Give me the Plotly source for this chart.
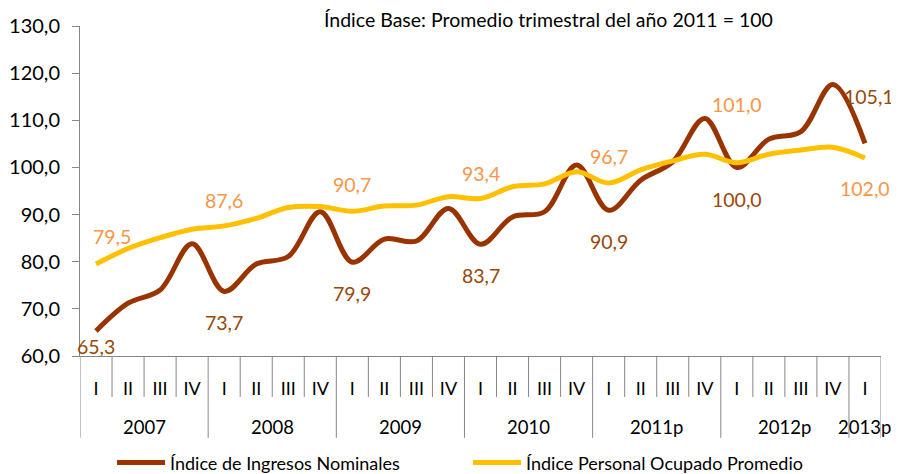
import plotly.graph_objects as go

# ---- data ----
years = ["2007", "2008", "2009", "2010", "2011p", "2012p", "2013p"]
quarters = ["I", "II", "III", "IV"] * 6 + ["I"]
ingresos = [65.3, 71.2, 74.0, 83.8, 73.7, 79.5, 81.1, 90.6, 79.9, 84.8, 84.4, 91.3,
            83.7, 89.5, 90.6, 100.5, 90.9, 97.3, 101.2, 110.4, 100.0, 106.0, 107.6, 117.6, 105.1]
personal = [79.5, 82.8, 85.1, 86.9, 87.6, 89.2, 91.5, 91.7, 90.7, 91.8, 92.0, 93.8,
            93.4, 95.9, 96.5, 99.1, 96.7, 99.5, 101.4, 102.8, 101.0, 102.8, 103.7, 104.3, 102.0]
ingresos_label_idx = [0, 4, 8, 12, 16, 20, 24]
personal_label_idx = [0, 4, 8, 12, 16, 20, 24]
title_text = "Índice Base: Promedio trimestral del año 2011 = 100"
name_ing = "Índice de Ingresos Nominales"
name_per = "Índice Personal Ocupado Promedio"

# ---- styles ----
FONT = "Lato"
C_ING = "#993300"
C_PER = "#FFC000"
C_ING_LBL = "#984807"
C_PER_LBL = "#F79646"
AX = "#868686"
ing_shift = {0: (0, -15), 4: (0, -31), 8: (0, -31), 12: (0, -31), 16: (0, -31), 20: (0, -32), 24: (4, 47)}
per_shift = {0: (16, 28), 4: (0, 25), 8: (0, 27), 12: (0, 25), 16: (0, 26), 20: (0, 58), 24: (0, -30)}

n = len(quarters)
xs = list(range(n))

fig = go.Figure()
fig.add_trace(go.Scatter(x=xs, y=ingresos, mode="lines", name=name_ing,
                         line=dict(color=C_ING, width=5, shape="spline", smoothing=1.0),
                         hoverinfo="skip"))
fig.add_trace(go.Scatter(x=xs, y=personal, mode="lines", name=name_per,
                         line=dict(color=C_PER, width=5, shape="spline", smoothing=1.0),
                         hoverinfo="skip"))

def fmt(v):
    return f"{v:.1f}".replace(".", ",")

ann = []
for i in ingresos_label_idx:
    dx, dy = ing_shift[i]
    ann.append(dict(x=i, y=ingresos[i], xref="x", yref="y", text=fmt(ingresos[i]), showarrow=False,
                    xshift=dx, yshift=dy, font=dict(family=FONT, size=19.5, color=C_ING_LBL)))
for i in personal_label_idx:
    dx, dy = per_shift[i]
    ann.append(dict(x=i, y=personal[i], xref="x", yref="y", text=fmt(personal[i]), showarrow=False,
                    xshift=dx, yshift=dy, font=dict(family=FONT, size=19.5, color=C_PER_LBL)))

# year labels
for k, yr in enumerate(years):
    idx = [i for i in range(n) if i // 4 == k]
    cx = (idx[0] + idx[-1]) / 2
    ann.append(dict(x=cx, y=-0.215, xref="x", yref="paper", text=yr, showarrow=False,
                    yanchor="middle", font=dict(family=FONT, size=18.5, color="#000000")))

# title
ann.append(dict(x=0.585, y=1.0, xref="paper", yref="paper", text=title_text, showarrow=False,
                yanchor="middle", yshift=7, borderpad=0,
                font=dict(family=FONT, size=19.5, color="#000000")))

# separators
shapes = []
for k in range(n + 1):
    xb = k - 0.5
    is_year = (k % 4 == 0) or k == n
    shapes.append(dict(type="line", xref="x", yref="paper", x0=xb, x1=xb, y0=0,
                       y1=-0.248 if is_year else -0.124, line=dict(color=AX, width=1)))

fig.update_layout(
    width=891, height=466,
    margin=dict(l=72, r=18, t=18, b=118, autoexpand=False),
    paper_bgcolor="white", plot_bgcolor="white",
    separators=",.",
    font=dict(family=FONT, size=17, color="#000000"),
    showlegend=True,
    legend=dict(orientation="h", x=0.04, xanchor="left", y=-0.324, yanchor="middle",
                font=dict(family=FONT, size=18, color="#000000"),
                itemwidth=48, entrywidth=293, bgcolor="rgba(0,0,0,0)"),
    annotations=ann, shapes=shapes,
)
fig.update_xaxes(range=[-0.5, n - 0.5], tickmode="array", tickvals=xs, ticktext=quarters,
                 showgrid=False, zeroline=False, showline=True, linecolor=AX, linewidth=1,
                 automargin=False,
                 ticks="", ticklabelstandoff=16, tickfont=dict(family=FONT, size=18, color="#000000"))
fig.update_yaxes(range=[60, 130], dtick=10, tickformat=".1f", showgrid=False, zeroline=False,
                 automargin=False, ticklabelstandoff=8,
                 showline=True, linecolor=AX, linewidth=1, ticks="outside", ticklen=7, tickcolor=AX,
                 tickfont=dict(family=FONT, size=20, color="#000000"))

fig.write_html("out.html")
